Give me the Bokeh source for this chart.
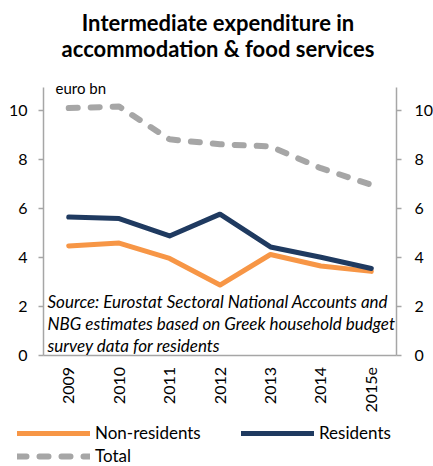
import math
from bokeh.plotting import figure
from bokeh.models import (FactorRange, Range1d, LinearAxis, CategoricalAxis,
                          FixedTicker, Label, Legend, LegendItem)
from bokeh.embed import file_html
from bokeh.resources import INLINE

# ---- data ----
years = ["2009", "2010", "2011", "2012", "2013", "2014", "2015e"]
non_residents = [4.46, 4.58, 3.95, 2.86, 4.11, 3.64, 3.42]
residents = [5.64, 5.58, 4.87, 5.76, 4.42, 4.00, 3.54]
total = [10.10, 10.16, 8.82, 8.62, 8.53, 7.64, 6.96]
y_ticks = [0, 2, 4, 6, 8, 10]
y_axis_top = 10.95

title_lines = ["Intermediate expenditure in", "accommodation & food services"]
unit_text = "euro bn"
source_lines = ["Source: Eurostat Sectoral National Accounts and",
                "NBG estimates based on Greek household budget",
                "survey data for residents"]

# ---- layout / style ----
W, H = 433, 466
FONT = "Lato"
AXIS_GRAY = "#a6a6a6"
ORANGE = "#f79646"
NAVY = "#1f3a60"
GRAY = "#a6a6a6"

PLOT_L, PLOT_R = 43.0, 396.0        # pixel x of left / right axis
Y0_PX, Y10_PX = 354.5, 110.0        # pixel y of value 0 and 10
BORDER_L = 6

ppu = (Y0_PX - Y10_PX) / 10.0
y_start = -(H - Y0_PX) / ppu
y_end = Y0_PX / ppu
cat_w = (PLOT_R - PLOT_L) / len(years)
pad_side = (PLOT_L - BORDER_L) / cat_w

x_range = FactorRange(*years, range_padding=pad_side,
                      range_padding_units="absolute")

p = figure(width=W, height=H, x_range=x_range,
           y_range=Range1d(y_start, y_end),
           output_backend="svg", toolbar_location=None,
           x_axis_location=None, y_axis_location=None,
           min_border_left=BORDER_L, min_border_right=0,
           min_border_top=0, min_border_bottom=0)
p.xgrid.visible = False
p.ygrid.visible = False
p.outline_line_color = None
p.background_fill_color = "white"
p.border_fill_color = "white"


def y_axis(loc, standoff):
    ax = LinearAxis(fixed_location=loc, bounds=(0, y_axis_top))
    ax.ticker = FixedTicker(ticks=y_ticks)
    ax.axis_line_color = AXIS_GRAY
    ax.axis_line_width = 1.5
    ax.major_tick_line_color = AXIS_GRAY
    ax.major_tick_line_width = 1.5
    ax.major_tick_out = 5
    ax.major_tick_in = 0
    ax.minor_tick_out = 0
    ax.minor_tick_in = 0
    ax.major_label_text_font = FONT
    ax.major_label_text_font_size = "16px"
    ax.major_label_text_color = "black"
    ax.major_label_standoff = standoff
    return ax


p.add_layout(y_axis(0, 11), "left")
p.add_layout(y_axis(len(years), 13), "right")

xa = CategoricalAxis(fixed_location=0, bounds=(0, len(years)))
xa.axis_line_color = AXIS_GRAY
xa.axis_line_width = 1.5
xa.major_tick_out = 0
xa.major_tick_in = 0
xa.minor_tick_out = 0
xa.minor_tick_in = 0
xa.major_label_orientation = math.pi / 2
xa.major_label_standoff = 12
xa.major_label_text_font = FONT
xa.major_label_text_font_size = "16px"
xa.major_label_text_color = "black"
p.add_layout(xa, "below")

r_non = p.line(years, non_residents, line_color=ORANGE, line_width=5,
               line_join="round", line_cap="round")
r_res = p.line(years, residents, line_color=NAVY, line_width=5,
               line_join="round", line_cap="round")
r_tot = p.line(years, total, line_color=GRAY, line_width=6, line_dash="9 13",
               line_join="round", line_cap="round")

legend = Legend(items=[LegendItem(label="Non-residents", renderers=[r_non]),
                       LegendItem(label="Residents", renderers=[r_res]),
                       LegendItem(label="Total", renderers=[r_tot])],
                location=(17 - BORDER_L, 0), orientation="horizontal", nrows=2,
                glyph_width=73, glyph_height=18, label_height=18,
                label_width=144, label_standoff=5, spacing=2,
                padding=0, margin=0, border_line_alpha=0,
                background_fill_alpha=0,
                label_text_font=FONT, label_text_font_size="17px",
                label_text_color="black")
p.add_layout(legend, "center")

frame_center = len(years) / 2
center_px = PLOT_L + frame_center * cat_w

# title lines
for txt, py in zip(title_lines, [22.0, 47.5]):
    p.add_layout(Label(x=frame_center, y=0, x_offset=217.5 - center_px,
                       y_offset=Y0_PX - py, text=txt,
                       text_font=FONT, text_font_style="bold",
                       text_font_size="22px", text_color="black",
                       text_align="center", text_baseline="middle"))

p.add_layout(Label(x=0, y=0, x_offset=55 - PLOT_L, y_offset=Y0_PX - 87,
                   text=unit_text, text_font=FONT, text_font_size="15px",
                   text_color="black", text_align="left",
                   text_baseline="middle"))

for txt, py in zip(source_lines, [301.0, 323.0, 344.5]):
    p.add_layout(Label(x=0, y=0, x_offset=47 - PLOT_L, y_offset=Y0_PX - py,
                       text=txt, text_font=FONT, text_font_style="italic",
                       text_font_size="17px", text_color="black",
                       text_align="left", text_baseline="middle"))

open("out.html", "w").write(file_html(p, INLINE))
